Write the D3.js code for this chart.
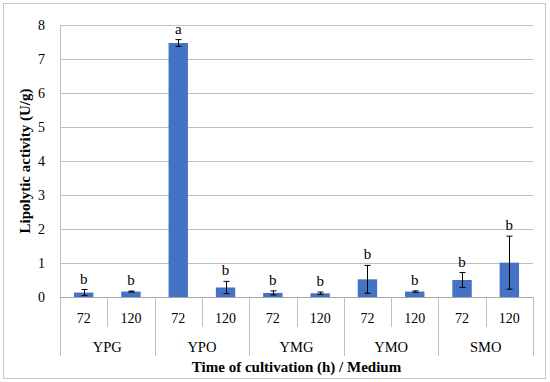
<!DOCTYPE html>
<html>
<head>
<meta charset="utf-8">
<script src="https://cdn.jsdelivr.net/npm/d3@7"></script>
<style>
  body { margin: 0; background: #fff; }
</style>
</head>
<body>
<svg id="chart" width="550" height="382" font-family="'Liberation Serif', 'Times New Roman', serif"></svg>
<script>
var media = ["YPG", "YPO", "YMG", "YMO", "SMO"];
var times = ["72", "120"];
var activity = [0.13, 0.16, 7.47, 0.28, 0.12, 0.11, 0.52, 0.16, 0.5, 1.01];
var errors = [0.09, 0.015, 0.1, 0.18, 0.06, 0.035, 0.41, 0.02, 0.22, 0.78];
var letters = ["b", "b", "a", "b", "b", "b", "b", "b", "b", "b"];
var yTicks = [0, 1, 2, 3, 4, 5, 6, 7, 8];

var svg = d3.select("#chart");
var margin = { top: 25, right: 17, bottom: 85, left: 60 },
  width = 550 - margin.left - margin.right,
  height = 382 - margin.top - margin.bottom;

// outer frame
svg.append("rect")
  .attr("x", 3.5).attr("y", 3.5)
  .attr("width", 542).attr("height", 375)
  .attr("fill", "none").attr("stroke", "#c8c8c8");

var g = svg.append("g")
  .attr("transform", "translate(" + margin.left + "," + margin.top + ")");

var data = activity.map(function (v, i) {
  return {
    key: i,
    medium: media[Math.floor(i / 2)],
    time: times[i % 2],
    value: v,
    err: errors[i],
    letter: letters[i]
  };
});

var x = d3.scaleBand()
  .domain(d3.range(data.length))
  .range([0, width])
  .paddingInner(0.59)
  .paddingOuter(0.295);

var y = d3.scaleLinear().domain([0, 8]).range([height, 0]);

// gridlines
g.append("g")
  .selectAll("line")
  .data(yTicks)
  .enter()
  .append("line")
  .attr("x1", 0).attr("x2", width)
  .attr("y1", function (d) { return Math.round(y(d)) + 0.5; })
  .attr("y2", function (d) { return Math.round(y(d)) + 0.5; })
  .attr("stroke", function (d) { return d === 0 ? "#a6a6a6" : "#bfbfbf"; })
  .attr("stroke-width", 1);

// y axis labels
g.append("g")
  .selectAll("text")
  .data(yTicks)
  .enter()
  .append("text")
  .attr("x", -15)
  .attr("y", function (d) { return y(d); })
  .attr("dy", "0.35em")
  .attr("text-anchor", "end")
  .style("font-size", "14px")
  .text(function (d) { return d; });

// y axis line
g.append("line")
  .attr("x1", 0.5).attr("x2", 0.5)
  .attr("y1", 0).attr("y2", height)
  .attr("stroke", "#bfbfbf");

// bars
g.append("g")
  .selectAll("rect")
  .data(data)
  .enter()
  .append("rect")
  .attr("x", function (d) { return x(d.key); })
  .attr("width", x.bandwidth())
  .attr("y", function (d) { return y(d.value); })
  .attr("height", function (d) { return height - y(d.value); })
  .attr("fill", "#4472c4");

// error bars
var eb = g.append("g").selectAll("g")
  .data(data)
  .enter()
  .append("g")
  .attr("stroke", "#000")
  .attr("stroke-width", 1);

function cx(d) { return Math.round(x(d.key) + x.bandwidth() / 2) + 0.5; }

eb.append("line")
  .attr("x1", cx).attr("x2", cx)
  .attr("y1", function (d) { return y(d.value + d.err); })
  .attr("y2", function (d) { return y(Math.max(d.value - d.err, 0)); });
eb.append("line")
  .attr("x1", function (d) { return cx(d) - 3; })
  .attr("x2", function (d) { return cx(d) + 3; })
  .attr("y1", function (d) { return y(d.value + d.err); })
  .attr("y2", function (d) { return y(d.value + d.err); });
eb.append("line")
  .attr("x1", function (d) { return cx(d) - 3; })
  .attr("x2", function (d) { return cx(d) + 3; })
  .attr("y1", function (d) { return y(Math.max(d.value - d.err, 0)); })
  .attr("y2", function (d) { return y(Math.max(d.value - d.err, 0)); });

// significance letters
g.append("g")
  .selectAll("text")
  .data(data)
  .enter()
  .append("text")
  .attr("x", function (d) { return x(d.key) + x.bandwidth() / 2; })
  .attr("y", function (d) { return y(d.value + d.err) - 6; })
  .attr("text-anchor", "middle")
  .style("font-size", "15px")
  .text(function (d) { return d.letter; });

// category axis: time labels and separators
var step = x.step();
var xa = g.append("g").attr("transform", "translate(0," + height + ")");

xa.selectAll("text.time")
  .data(data)
  .enter()
  .append("text")
  .attr("class", "time")
  .attr("x", function (d) { return x(d.key) + x.bandwidth() / 2; })
  .attr("y", 21)
  .attr("dy", "0.35em")
  .attr("text-anchor", "middle")
  .style("font-size", "14px")
  .text(function (d) { return d.time; });

xa.selectAll("line.sep")
  .data(d3.range(data.length + 1))
  .enter()
  .append("line")
  .attr("class", "sep")
  .attr("x1", function (i) { return Math.round(i * step) + 0.5; })
  .attr("x2", function (i) { return Math.round(i * step) + 0.5; })
  .attr("y1", 0)
  .attr("y2", function (i) { return i % 2 === 0 ? 59 : 30; })
  .attr("stroke", "#bfbfbf");

xa.selectAll("text.medium")
  .data(media)
  .enter()
  .append("text")
  .attr("class", "medium")
  .attr("x", function (d, i) { return (i * 2 + 1) * step; })
  .attr("y", 50)
  .attr("dy", "0.35em")
  .attr("text-anchor", "middle")
  .style("font-size", "14.5px")
  .text(function (d) { return d; });

// axis titles
svg.append("text")
  .attr("x", margin.left + width / 2)
  .attr("y", 372)
  .attr("text-anchor", "middle")
  .style("font-size", "15px")
  .style("font-weight", "bold")
  .text("Time of cultivation (h) / Medium");

svg.append("text")
  .attr("transform", "translate(30," + (margin.top + height / 2) + ") rotate(-90)")
  .attr("text-anchor", "middle")
  .style("font-size", "15px")
  .style("font-weight", "bold")
  .text("Lipolytic activity (U/g)");
</script>
</body>
</html>
